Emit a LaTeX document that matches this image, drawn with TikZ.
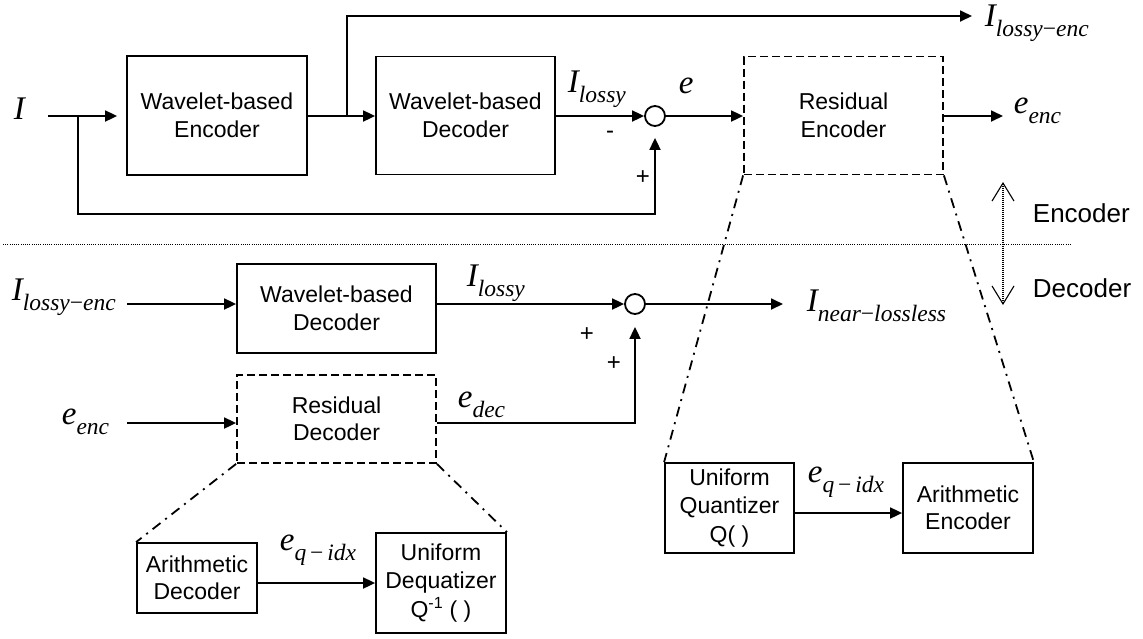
\documentclass[tikz,border=0pt]{standalone}
\usepackage{fontspec}
\setmainfont{Liberation Sans}
\newfontfamily\tms{Liberation Serif}
\usetikzlibrary{arrows.meta}
\newcommand\Ml[2]{{\fontsize{33}{33}\selectfont\tms\itshape #1}\raisebox{-10pt}{\fontsize{23.5}{23.5}\selectfont\tms\itshape #2}}
\newcommand\mneg{{\upshape −}}
\begin{document}
\begin{tikzpicture}[x=1pt,y=-1pt, line width=1.8pt,
  >={Triangle[length=12pt,width=11pt]},
  box/.style={draw, inner sep=0pt, align=center, font=\fontsize{23}{27.5}\selectfont},
  dbox/.style={box, dash pattern=on 8pt off 4pt},
  dd/.style={dash pattern=on 10pt off 6pt on 2pt off 6pt},
  lab/.style={anchor=base west, inner sep=0pt},
  sg/.style={inner sep=0pt, font=\fontsize{24}{24}\selectfont},
  side/.style={anchor=base west, inner sep=0pt, font=\fontsize{26}{26}\selectfont},
  summ/.style={circle, draw, minimum size=20pt, inner sep=0pt}]
\useasboundingbox (0,0) rectangle (1143,638);
% boxes
\node[box, minimum width=180pt, minimum height=119pt] (enc1) at (217,115.5) {Wavelet-based\\Encoder};
\node[box, minimum width=179pt, minimum height=118pt] (dec1) at (465.5,115.5) {Wavelet-based\\Decoder};
\node[dbox, minimum width=199pt, minimum height=118pt] (resenc) at (843.5,115.5) {Residual\\Encoder};
\node[box, minimum width=199pt, minimum height=89pt] (dec2) at (336.5,308.5) {Wavelet-based\\Decoder};
\node[dbox, minimum width=199pt, minimum height=88pt] (resdec) at (336.5,419) {Residual\\Decoder};
\node[box, minimum width=120pt, minimum height=70pt] (arithdec) at (197,578) {Arithmetic\\Decoder};
\node[box, minimum width=130pt, minimum height=100pt, font=\fontsize{23}{28.5}\selectfont] (deq) at (441,583) {Uniform\\Dequatizer\\Q\textsuperscript{-1} ( )};
\node[box, minimum width=129pt, minimum height=90pt, font=\fontsize{23}{28.5}\selectfont] (quant) at (729.5,508) {Uniform\\Quantizer\\Q( )};
\node[box, minimum width=130pt, minimum height=90pt] (arithenc) at (968,508) {Arithmetic\\Encoder};
\node[summ] (s1) at (655,116) {};
\node[summ] (s2) at (635,304) {};
% coordinates
\coordinate (in1) at (48,116);
\coordinate (b1) at (78,116);
\coordinate (b2) at (347,116);
\coordinate (fb) at (78,214);
\coordinate (top) at (972,16);
\coordinate (eo) at (1003,116);
\coordinate (in2) at (127,304);
\coordinate (out2) at (783,304);
\coordinate (in3) at (127,423);
\coordinate (qa) at (800,513);
\coordinate (sepL) at (3,244);
\coordinate (sepR) at (1072,244);
\coordinate (vT) at (1003,182);
\coordinate (vB) at (1003,305);
% top connectors
\draw[->, shorten >=9pt] (in1) -- (enc1.west |- in1);
\draw[->] (enc1.east |- in1) -- (dec1.west |- in1);
\draw[->, shorten >=11pt] (b1) -- (fb) -| (s1.south);
\draw[->] (b2) |- (top);
\draw[->] (dec1.east |- s1) -- (s1.west);
\draw[->] (s1.east) -- (resenc.west |- s1);
\draw[->] (resenc.east |- s1) -- (eo);
% bottom connectors
\draw[->] (in2) -- (dec2.west |- in2);
\draw[->] (dec2.east |- s2) -- (s2.west);
\draw[->] (s2.east) -- (out2);
\draw[->] (in3) -- (resdec.west |- in3);
\draw[->, shorten >=12pt] (resdec.east |- in3) -| (s2.south);
\draw[->] (arithdec.east |- deq.west) -- (deq.west);
\draw[->] (quant.east |- qa) -- (arithenc.west |- qa);
% zoom lines
\draw[dd] (resenc.south west) -- (quant.north west);
\draw[dd] (resenc.south east) -- (arithenc.north east);
\draw[dd] (resdec.south west) -- (arithdec.north west);
\draw[dd] (resdec.south east) -- (deq.north east);
% separator
\draw[line width=1pt, dash pattern=on 1pt off 1.2pt] (sepL) -- (sepR);
\draw[line width=1.1pt, dash pattern=on 1pt off 1pt, {Straight Barb[length=18pt,width=22pt]}-{Straight Barb[length=18pt,width=22pt]}] (vT) -- (vB);
\node[side] (tEnc) at (1032,222) {Encoder};
\node[side] (tDec) at (1032,297) {Decoder};
% labels
\node[lab] (lI) at (13,119) {\Ml{I}{}};
\node[lab] (lIl) at (567,92) {\Ml{I}{lossy}};
\node[lab] (le) at (678,93) {\Ml{e}{}};
\node[lab] (lIle) at (984,26) {\Ml{I}{lossy\mneg enc}};
\node[lab] (lee) at (1013,113) {\Ml{e}{enc}};
\node[lab] (lIle2) at (11,300) {\Ml{I}{lossy\mneg enc}};
\node[lab] (lee2) at (61,424) {\Ml{e}{enc}};
\node[lab] (lIl2) at (466,286) {\Ml{I}{lossy}};
\node[lab] (led) at (457,407) {\Ml{e}{dec}};
\node[lab] (lInl) at (806,311) {\Ml{I}{near\mneg lossless}};
\node[lab] (leq1) at (279,550) {\Ml{e}{q\,\mneg\,idx}};
\node[lab] (leq2) at (807,482) {\Ml{e}{q\,\mneg\,idx}};
% signs
\node[sg] (m1) at (610,135) {-};
\node[sg] (p1) at (643,178) {+};
\node[sg] (p2) at (587,335) {+};
\node[sg] (p3) at (614,364) {+};
\end{tikzpicture}
\end{document}
